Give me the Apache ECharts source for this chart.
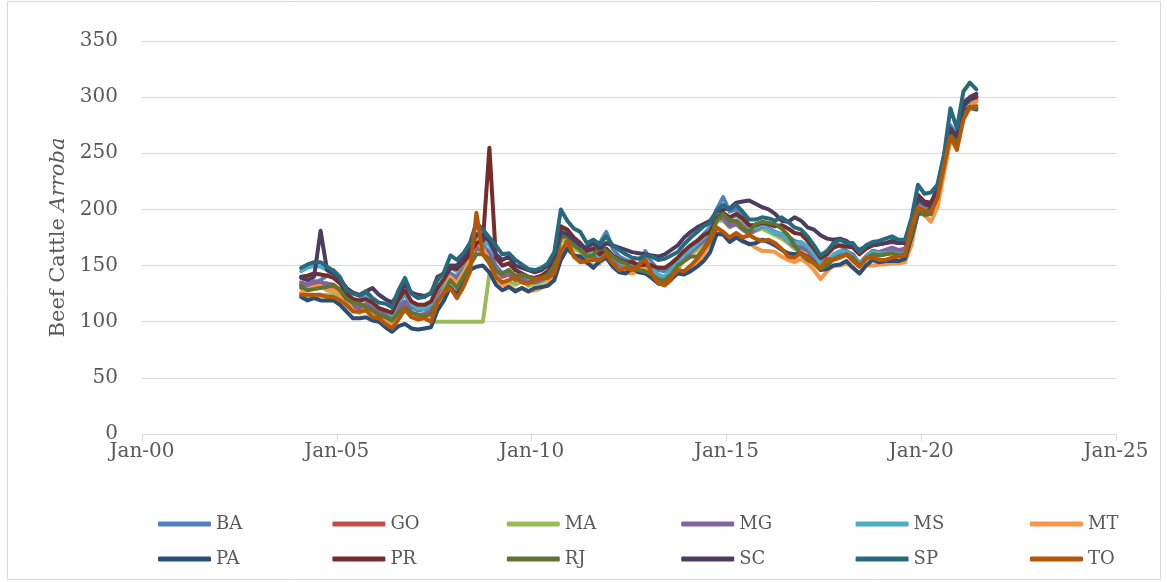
<!DOCTYPE html>
<html><head><meta charset="utf-8">
<script src="https://cdn.jsdelivr.net/npm/echarts@6/dist/echarts.min.js"></script>
<style>html,body{margin:0;padding:0;background:#fff}#c{width:1167px;height:582px}</style>
</head><body><div id="c"></div><script>
// bimonthly observations starting Feb 2004
const startYear = 2004, startMonth = 2, stepMonths = 2;
const seriesNames = ['BA','GO','MA','MG','MS','MT','PA','PR','RJ','SC','SP','TO'];
const seriesColors = ['#4F81BD','#C0504D','#9BBB59','#8064A2','#4BACC6','#F79646','#2C4D75','#772C2A','#5F7530','#4D3B62','#276A7C','#B65708'];
const xTickValues = [0,60,120,180,240,300];

const BA = [
133,131,135,137,141,146,
140,126,120,118,124,117,
110,108,104,116,125,113,
110,111,114,126,135,143,
140,150,158,170,168,162,
150,143,146,140,138,136,
136,138,141,150,180,177,
170,167,160,165,170,180,
165,158,155,153,150,163,
153,146,145,149,156,162,
168,172,178,184,200,211,
198,200,194,186,185,187,
183,180,178,176,172,170,
166,160,153,160,170,168,
163,159,151,158,163,162,
163,164,162,163,185,212,
203,204,220,248,275,265,
292,298,298];
const GO = [
130,128,132,133,132,130,
126,117,112,111,114,110,
106,103,100,110,115,106,
104,105,108,120,128,140,
135,146,155,165,163,158,
146,140,142,137,139,134,
136,137,140,147,175,176,
168,165,158,157,161,164,
156,152,150,154,150,150,
146,140,139,144,152,160,
163,166,170,176,190,193,
187,190,186,181,182,183,
181,178,176,172,168,166,
163,157,150,153,158,160,
161,158,151,157,162,160,
161,163,161,162,181,205,
203,203,218,242,270,260,
290,296,297];
const MA = [
124,121,122,123,124,125,
122,114,110,108,111,107,
104,101,97,106,112,104,
102,104,100,100,100,100,
100,100,100,100,100,143,
140,134,136,133,136,132,
134,135,138,146,172,172,
165,162,156,156,160,162,
154,150,147,149,146,146,
142,137,136,140,147,155,
160,164,170,178,190,190,
184,187,183,178,181,183,
180,177,174,170,165,162,
158,151,146,150,156,159,
159,156,149,155,160,159,
160,161,159,160,176,198,
195,196,213,240,266,258,
284,290,290];
const MG = [
135,133,136,135,134,133,
128,119,114,113,116,112,
108,105,102,112,118,108,
106,107,110,122,130,142,
138,148,155,166,165,160,
146,141,143,138,137,136,
135,137,140,148,177,178,
169,166,159,158,158,163,
155,151,149,150,148,147,
144,140,138,143,150,158,
162,167,172,179,192,192,
185,187,182,178,182,185,
183,179,177,172,167,166,
164,158,150,152,158,162,
162,160,152,158,163,162,
164,166,164,165,184,207,
205,204,219,243,271,262,
291,298,301];
const MS = [
145,148,150,149,146,142,
136,125,120,117,122,116,
112,110,106,118,126,116,
112,112,116,128,135,148,
145,152,160,174,172,168,
158,150,152,146,143,139,
138,140,143,152,182,180,
172,168,160,162,158,165,
157,153,150,152,148,148,
147,142,140,146,152,160,
164,170,175,181,195,197,
192,195,190,184,183,186,
182,179,178,172,170,171,
167,160,152,154,160,163,
162,158,152,158,162,161,
161,162,160,161,180,203,
200,200,215,240,268,258,
286,294,298];
const MT = [
126,129,131,132,128,128,
124,118,110,108,112,106,
104,100,96,104,113,106,
104,104,106,118,128,140,
134,144,155,172,165,155,
138,133,132,128,130,127,
128,130,134,140,160,170,
160,155,152,150,152,158,
150,145,144,143,145,150,
142,135,132,137,144,145,
148,152,160,170,180,177,
172,176,171,170,166,163,
163,162,158,155,153,156,
152,146,138,145,150,150,
152,148,143,150,150,151,
151,152,152,153,168,198,
195,189,202,232,262,256,
282,292,296];
const PA = [
122,119,121,119,119,119,
115,109,103,103,104,101,
100,95,91,96,98,94,
93,94,95,110,119,131,
124,137,146,149,150,144,
133,128,131,127,130,127,
130,131,132,137,155,165,
159,158,153,148,154,157,
149,144,143,148,144,143,
139,134,133,138,143,142,
145,149,154,162,178,178,
171,175,172,169,170,173,
171,168,164,161,160,161,
158,153,146,147,150,151,
154,148,143,150,155,153,
154,154,154,156,175,196,
197,201,218,243,266,262,
287,291,289];
const PR = [
140,141,143,142,141,139,
134,125,120,119,120,117,
112,110,108,120,128,118,
115,115,118,130,138,148,
147,153,160,170,172,255,
157,150,152,146,143,140,
139,141,145,153,185,182,
175,170,163,165,160,165,
159,155,153,153,150,151,
150,148,148,152,157,163,
168,172,177,180,192,197,
193,196,192,186,186,188,
187,185,186,183,179,178,
172,165,157,160,166,168,
167,166,160,165,168,169,
170,172,170,170,187,213,
207,206,218,244,272,263,
292,298,300];
const RJ = [
132,128,129,130,131,133,
128,120,117,116,113,110,
106,104,101,108,113,108,
106,105,107,118,126,137,
130,140,150,160,160,156,
145,143,146,141,142,140,
138,139,142,150,176,176,
168,164,158,159,167,163,
158,154,152,147,146,145,
142,137,137,142,150,154,
158,158,165,175,190,196,
190,190,183,180,187,189,
188,187,183,177,168,160,
155,152,147,150,156,158,
160,157,150,156,160,159,
160,161,159,160,178,200,
195,196,214,240,267,258,
285,290,290];
const SC = [
139,137,140,181,146,143,
138,130,126,124,127,130,
124,120,117,125,133,126,
124,123,125,140,143,150,
150,157,165,178,176,172,
160,155,158,150,148,146,
144,146,150,158,180,178,
173,168,166,170,165,170,
168,166,164,162,161,160,
159,158,160,164,168,175,
180,184,187,190,198,200,
201,206,207,208,205,202,
200,196,190,189,193,190,
184,182,177,174,173,174,
172,167,164,167,168,169,
170,171,170,171,188,210,
205,203,218,243,272,265,
295,300,303];
const SP = [
148,151,153,153,149,145,
139,128,125,123,127,121,
117,116,113,128,139,125,
121,122,126,137,144,159,
155,161,170,188,182,175,
168,160,161,155,151,147,
146,148,152,162,200,190,
183,180,170,173,169,176,
168,164,160,157,156,159,
158,155,156,159,162,169,
175,180,185,188,199,204,
200,204,198,191,191,193,
192,190,193,189,184,182,
176,168,159,163,170,173,
170,170,162,168,171,172,
174,176,173,173,192,222,
214,215,222,248,290,272,
305,313,307];
const TO = [
124,124,124,124,122,122,
119,115,109,109,110,104,
103,98,94,102,111,104,
102,103,100,117,126,130,
121,131,144,197,160,152,
140,135,137,140,135,134,
137,139,139,143,162,172,
158,153,154,155,155,160,
152,146,148,146,150,156,
143,134,133,139,146,145,
150,156,164,172,184,180,
175,179,175,177,174,172,
173,170,165,158,157,161,
157,152,148,156,155,157,
160,154,149,157,157,155,
155,157,158,159,185,202,
199,198,210,238,265,253,
280,291,292];

const seriesValues = [BA,GO,MA,MG,MS,MT,PA,PR,RJ,SC,SP,TO];
const monthIndex = i => (startYear - 2000) * 12 + (startMonth - 1) + i * stepMonths;
const FONT = 'DejaVu Serif';
const GREY = '#595959';
const LINEGREY = '#D9D9D9';

const chart = echarts.init(document.getElementById('c'), null, {renderer: 'canvas'});
chart.setOption({
  animation: false,
  backgroundColor: '#fff',
  graphic: [{type: 'rect', shape: {x: 7.5, y: 1.5, width: 1153, height: 578}, style: {fill: 'none', stroke: LINEGREY, lineWidth: 1}, silent: true}],
  grid: {left: 142, right: 51, top: 41, bottom: 148},
  xAxis: {
    type: 'value', min: xTickValues[0], max: xTickValues[xTickValues.length - 1], interval: xTickValues[1] - xTickValues[0],
    axisLine: {show: true, lineStyle: {color: LINEGREY, width: 1}},
    axisTick: {show: true, length: 7, lineStyle: {color: LINEGREY}},
    splitLine: {show: false},
    axisLabel: {margin: 8, fontFamily: FONT, fontSize: 20, color: GREY,
      formatter: v => 'Jan-' + String((2000 + v / 12) % 100).padStart(2, '0')}
  },
  yAxis: {
    type: 'value', min: 0, max: 350, interval: 50,
    axisLine: {show: false}, axisTick: {show: false},
    splitLine: {lineStyle: {color: LINEGREY, width: 1}},
    axisLabel: {margin: 24, fontFamily: FONT, fontSize: 20, color: GREY},
    name: '{a|Beef Cattle }{b|Arroba}', nameLocation: 'middle', nameGap: 68, nameRotate: 90,
    nameTextStyle: {fontFamily: FONT, fontSize: 21, color: GREY,
      rich: {a: {fontFamily: FONT, fontSize: 21, color: GREY}, b: {fontFamily: FONT, fontSize: 21, color: GREY, fontStyle: 'italic'}}}
  },
  legend: seriesNames.map((n, i) => ({
    data: [n], left: 158 + (i % 6) * 174.4, top: i < 6 ? 515 : 550,
    icon: 'roundRect', itemWidth: 53, itemHeight: 5, padding: 0, selectedMode: false,
    textStyle: {fontFamily: FONT, fontSize: 18, color: GREY}
  })),
  series: seriesNames.map((n, si) => ({
    name: n, type: 'line', symbol: 'none', showSymbol: false,
    data: seriesValues[si].map((v, i) => [monthIndex(i), v]),
    lineStyle: {width: 4, color: seriesColors[si], cap: 'round', join: 'round'},
    itemStyle: {color: seriesColors[si]}
  }))
});
</script></body></html>
